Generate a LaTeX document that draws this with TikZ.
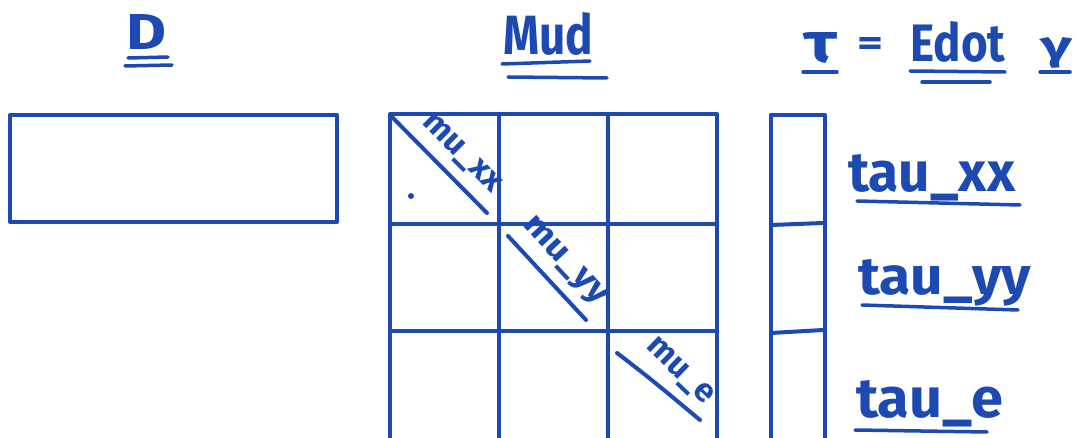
\documentclass[tikz,border=0pt]{standalone}
\usepackage{fontspec}
\setmainfont{Fira Sans}
\usepackage{graphicx}
\definecolor{ink}{RGB}{28,74,178}
\newcommand{\hwtext}[3]{\resizebox{#1}{#2}{#3}}
\begin{document}
\begin{tikzpicture}[x=1pt,y=-1pt,
  pen/.style={draw=ink,line width=4pt,line cap=round,line join=round},
  thin pen/.style={draw=ink,line width=3.5pt,line cap=round},
  lbl/.style={text=ink,inner sep=0pt,font=\fontsize{30}{36}\selectfont\bfseries},
  diag/.style={text=ink,inner sep=0pt,font=\fontsize{20}{24}\selectfont\bfseries}]
\useasboundingbox (0,0) rectangle (1076,438);
% titles
\node[lbl,anchor=base] (tD) at (147,50) {\hwtext{40pt}{35pt}{D}};
\draw[thin pen] (128,58) -- (168,57);
\draw[thin pen] (125,66) -- (172,65);
\node[lbl,anchor=base] (tMud) at (548,55) {\hwtext{90pt}{42pt}{Mud}};
\draw[thin pen] (502,64) -- (590,61);
\draw[thin pen] (508,77) -- (607,78);
\node[lbl,anchor=base] (ttau) at (820,63) {\hwtext{34pt}{30pt}{τ}};
\draw[thin pen] (803,72) -- (837,72);
\node[lbl,anchor=base] (teq) at (870,56) {\hwtext{26pt}{18pt}{=}};
\node[lbl,anchor=base] (tEdot) at (958,62) {\hwtext{95pt}{40pt}{Edot}};
\draw[thin pen] (910,71) -- (1005,72);
\draw[thin pen] (922,82) -- (990,82);
\node[lbl,anchor=base] (tgam) at (1056,60) {\hwtext{32pt}{22pt}{γ}};
\draw[thin pen] (1040,72) -- (1070,72);
% D box
\draw[pen] (10,115) rectangle (337,222);
% Mud grid
\draw[pen] (390,438) -- (390,114) -- (717,114) -- (717,438);
\draw[pen] (499,114) -- (499,438);
\draw[pen] (608,114) -- (608,438);
\draw[pen] (390,224) -- (717,224);
\draw[pen] (390,331) -- (717,331);
% diagonals
\draw[pen] (392,117) -- (487,213);
\draw[pen] (508,236) -- (586,320);
\draw[pen] (617,353) .. controls (650,378) and (670,395) .. (700,420);
\fill[ink] (411,196) circle (3);
\node[diag,rotate=-45] (muxx) at (461,154) {\hwtext{100pt}{18pt}{mu\_xx}};
\node[diag,rotate=-47] (muyy) at (564,262) {\hwtext{110pt}{18pt}{mu\_yy}};
\node[diag,rotate=-44] (mue) at (679,372) {\hwtext{82pt}{18pt}{mu\_e}};
% vector
\draw[pen] (771,438) -- (771,115) -- (825,115) -- (825,438);
\draw[pen] (771,225) -- (823,223);
\draw[pen] (771,333) -- (823,330);
% tau labels
\node[lbl,anchor=base west] (txx) at (848,192) {\hwtext{167pt}{37pt}{tau\_xx}};
\draw[thin pen] (857,201) -- (1020,205);
\node[lbl,anchor=base west] (tyy) at (858,295) {\hwtext{173pt}{35pt}{tau\_yy}};
\draw[thin pen] (862,305) -- (1018,310);
\node[lbl,anchor=base west] (te) at (856,417) {\hwtext{147pt}{37pt}{tau\_e}};
\draw[thin pen] (855,430) -- (987,432);
\end{tikzpicture}
\end{document}
